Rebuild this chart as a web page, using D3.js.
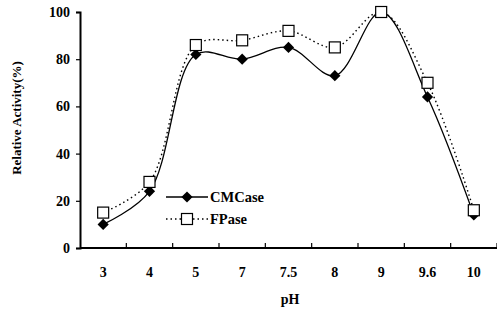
<!DOCTYPE html>
<html lang="en">
<head>
  <meta charset="UTF-8">
  <title>Relative Activity vs pH</title>
  <script src="https://d3js.org/d3.v7.min.js"></script>
  <style>
    body { margin: 0; padding: 0; background: #fff; }
    svg { display: block; }
    text { font-family: "Liberation Serif", "Times New Roman", serif; font-weight: bold; fill: #000; }
  </style>
</head>
<body>
  <div id="chart"></div>
  <script>
    const phLabels = ["3", "4", "5", "7", "7.5", "8", "9", "9.6", "10"];
    const cmcase = [10, 24, 82, 80, 85, 73, 100, 64, 14];
    const fpase = [15, 28, 86, 88, 92, 85, 100, 70, 16];
    const yTicks = [0, 20, 40, 60, 80, 100];

    const W = 497, H = 313;
    const plotLeft = 80, plotRight = 497, plotTop = 12, plotBottom = 248;

    const svg = d3.select("#chart").append("svg")
      .attr("width", W).attr("height", H);

    const x = d3.scalePoint().domain(phLabels).range([plotLeft, plotRight]).padding(0.5);
    const y = d3.scaleLinear().domain([0, 100]).range([plotBottom, plotTop]);
    const step = x.step();

    // y axis
    const yAxis = svg.append("g")
      .attr("transform", `translate(${plotLeft},0)`)
      .call(d3.axisLeft(y).tickValues(yTicks).tickSize(4).tickPadding(6));
    yAxis.select(".domain").attr("stroke", "#000").attr("stroke-width", 2);
    yAxis.selectAll(".tick line").attr("stroke-width", 1.2);
    yAxis.selectAll("text").style("font-size", "14px");

    // x axis
    svg.append("line")
      .attr("x1", plotLeft).attr("x2", plotRight)
      .attr("y1", plotBottom).attr("y2", plotBottom)
      .attr("stroke", "#000").attr("stroke-width", 2);
    svg.selectAll(".xtick")
      .data(phLabels)
      .enter().append("line")
      .attr("class", "xtick")
      .attr("x1", d => x(d) + step / 2).attr("x2", d => x(d) + step / 2)
      .attr("y1", plotBottom).attr("y2", plotBottom - 5)
      .attr("stroke", "#000").attr("stroke-width", 1.2);
    svg.selectAll(".xlab")
      .data(phLabels)
      .enter().append("text")
      .attr("class", "xlab")
      .attr("x", d => x(d)).attr("y", 277)
      .attr("text-anchor", "middle")
      .style("font-size", "14px")
      .text(d => d);

    svg.append("text")
      .attr("x", 290).attr("y", 304)
      .attr("text-anchor", "middle")
      .style("font-size", "14px")
      .text("pH");

    svg.append("text")
      .attr("transform", "translate(21,118) rotate(-90)")
      .attr("text-anchor", "middle")
      .style("font-size", "13px")
      .text("Relative Activity(%)");

    const line = d3.line()
      .x((d, i) => x(phLabels[i]))
      .y(d => y(d))
      .curve(d3.curveCatmullRom.alpha(0.5));

    svg.append("path")
      .datum(fpase)
      .attr("d", line)
      .attr("fill", "none")
      .attr("stroke", "#000")
      .attr("stroke-width", 1.4)
      .attr("stroke-dasharray", "1.5,3");

    svg.append("path")
      .datum(cmcase)
      .attr("d", line)
      .attr("fill", "none")
      .attr("stroke", "#000")
      .attr("stroke-width", 1.3);

    const diamond = d3.symbol().type(d3.symbolDiamond2).size(80);

    svg.selectAll(".cm")
      .data(cmcase)
      .enter().append("path")
      .attr("class", "cm")
      .attr("d", diamond)
      .attr("transform", (d, i) => `translate(${x(phLabels[i])},${y(d)})`)
      .attr("fill", "#000");

    svg.selectAll(".fp")
      .data(fpase)
      .enter().append("rect")
      .attr("class", "fp")
      .attr("x", (d, i) => x(phLabels[i]) - 5.5)
      .attr("y", d => y(d) - 5.5)
      .attr("width", 11).attr("height", 11)
      .attr("fill", "#fff")
      .attr("stroke", "#000")
      .attr("stroke-width", 1.2);

    // legend
    const lg = svg.append("g").attr("transform", "translate(166,197)");
    lg.append("line").attr("x1", 0).attr("x2", 42).attr("y1", 0).attr("y2", 0)
      .attr("stroke", "#000").attr("stroke-width", 1.3);
    lg.append("path").attr("d", diamond).attr("transform", "translate(21,0)").attr("fill", "#000");
    lg.append("text").attr("x", 44).attr("y", 5).style("font-size", "14.5px").text("CMCase");

    lg.append("line").attr("x1", 0).attr("x2", 42).attr("y1", 22).attr("y2", 22)
      .attr("stroke", "#000").attr("stroke-width", 1.4).attr("stroke-dasharray", "1.5,3");
    lg.append("rect").attr("x", 15.5).attr("y", 16.5).attr("width", 11).attr("height", 11)
      .attr("fill", "#fff").attr("stroke", "#000").attr("stroke-width", 1.2);
    lg.append("text").attr("x", 44).attr("y", 27).style("font-size", "14.5px").text("FPase");
  </script>
</body>
</html>
